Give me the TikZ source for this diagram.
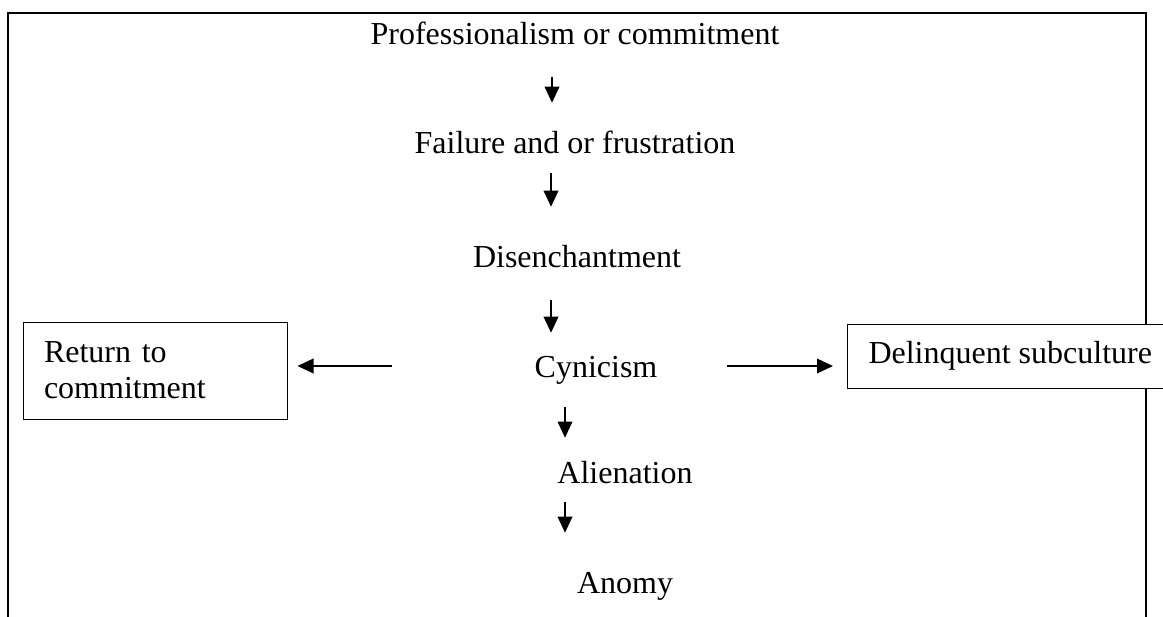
\documentclass[tikz,border=0pt]{standalone}
\usepackage{fontspec}
\setmainfont{Liberation Serif}
\usetikzlibrary{arrows.meta, positioning}

\begin{document}
\begin{tikzpicture}[
      x=0.75pt, y=-0.75pt,
      every node/.style={font=\fontsize{24}{27}\selectfont, inner sep=0pt},
      stage/.style={anchor=base, text height=16.8pt, text depth=4.8pt},
      outcome/.style={draw, line width=0.75pt, fill=white, inner xsep=15.75pt, align=left},
      flow/.style={line width=1pt, -{Triangle[width=11pt, length=12pt]}},
      frame/.style={line width=1.5pt}
    ]
      \useasboundingbox (0,0) rectangle (1163,617);
      \draw[frame] (8,617) |- (1146,13) -- (1146,617);

      % main chain
      \node[stage] (prof) at (575,45) {Professionalism or commitment};
      \node[stage] (fail) at (575,153) {Failure and or frustration};
      \node[stage] (dis) at (577,267) {Disenchantment};
      \node[stage] (cyn) at (596,377) {Cynicism};
      \node[stage] (ali) at (625,483) {Alienation};
      \node[stage] (ano) at (625,593) {Anomy};

      % side outcomes
      \node[outcome, minimum width=198pt, minimum height=72.75pt, text width=166.5pt] (ret) at (155,370.5) {Return to\\commitment};
      \node[outcome, anchor=west, minimum height=48pt] (dlq) at (847,356) {Delinquent subculture};

      \draw[flow, shorten <=19.2pt, shorten >=20.7pt] ([xshift=-17.25pt]prof.south) -- ([xshift=-17.25pt]fail.north);
      \draw[flow, shorten <=10.2pt, shorten >=28.2pt] ([xshift=-18pt]fail.south) -- ([xshift=-19.5pt]dis.north);
      \draw[flow, shorten <=20pt, shorten >=16.2pt] ([xshift=-19.5pt]dis.south) -- ([xshift=-33.75pt]cyn.north);
      \draw[flow, shorten <=17.7pt, shorten >=17pt] ([xshift=-23.25pt]cyn.south) -- ([xshift=-45pt]ali.north);
      \draw[flow, shorten <=9.5pt, shorten >=28.2pt] ([xshift=-45pt]ali.south) -- ([xshift=-45pt]ano.north);
      \draw[flow, shorten <=107pt, shorten >=7.5pt] ([yshift=2.25pt]cyn.west) -- ([yshift=2.25pt]cyn.west -| ret.east);
      \draw[flow, shorten <=52.3pt, shorten >=10.5pt] ([yshift=2.25pt]cyn.east) -- ([yshift=2.25pt]cyn.east -| dlq.west);
\end{tikzpicture}
\end{document}
